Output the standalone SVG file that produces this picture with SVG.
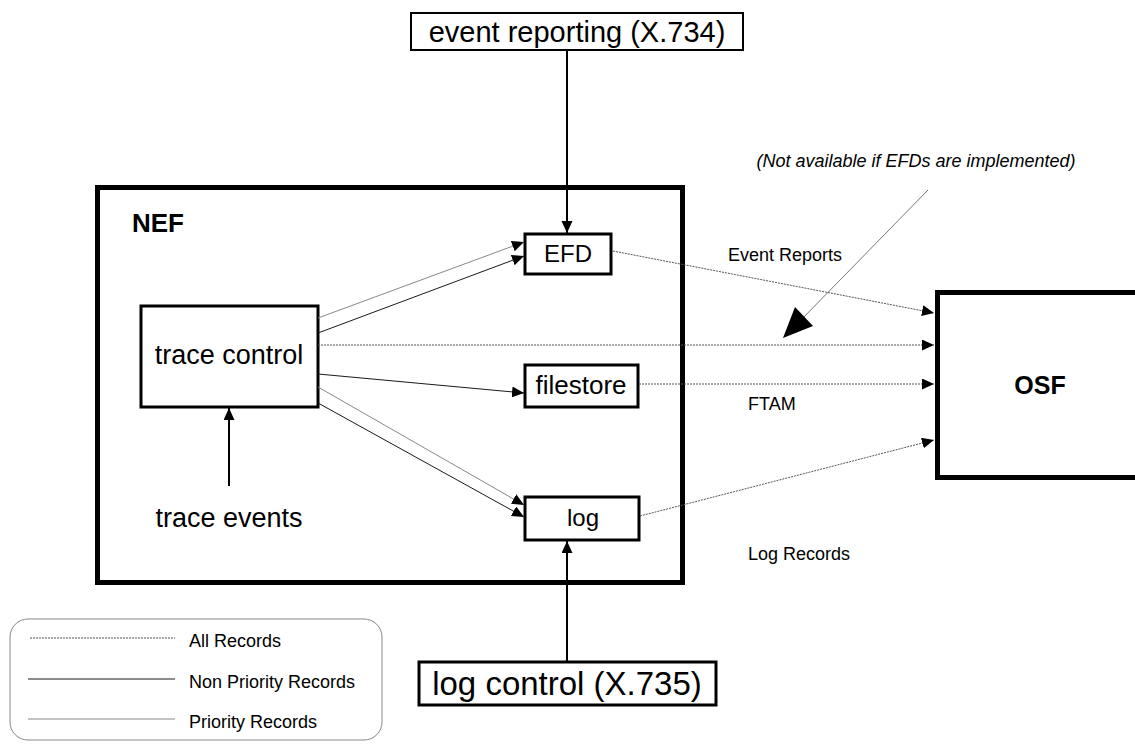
<svg xmlns="http://www.w3.org/2000/svg" width="1135" height="744" viewBox="0 0 1135 744">
<style>
  text { font-family: "Liberation Sans", Arial, sans-serif; fill: #000; }
  .box { fill: #fff; stroke: #000; stroke-width: 3; }
  .thin { fill: none; stroke-width: 1; }
  .all { stroke: #555; stroke-dasharray: 2 1; }
  .nonp { stroke: #1a1a1a; }
  .prio { stroke: #888; }
  .ctl { fill: none; stroke: #000; stroke-width: 2; }
  .lbl { font-size: 18px; }
</style>
<defs>
  <marker id="ah" markerUnits="userSpaceOnUse" markerWidth="13" markerHeight="12" refX="12" refY="5.5" orient="auto">
    <path d="M0,0 L12,5.5 L0,11 Z" fill="#000"/>
  </marker>
  <marker id="ahc" markerUnits="userSpaceOnUse" markerWidth="13" markerHeight="12" refX="12" refY="5.5" orient="auto">
    <path d="M0,0 L12,5.5 L0,11 Z" fill="#000"/>
  </marker>
</defs>

<g id="nef">
  <rect x="97.5" y="187.5" width="585" height="395" fill="#fff" stroke="#000" stroke-width="5"/>
  <text x="132" y="232" font-size="26" font-weight="bold">NEF</text>
</g>

<g id="osf">
  <rect x="937.5" y="292.5" width="210" height="185" fill="#fff" stroke="#000" stroke-width="5"/>
  <text x="1040" y="394" font-size="25" font-weight="bold" text-anchor="middle">OSF</text>
</g>

<g id="event-reporting">
  <rect x="411" y="13" width="332" height="37" fill="#fff" stroke="#000" stroke-width="2"/>
  <text x="577" y="42" font-size="29" text-anchor="middle">event reporting (X.734)</text>
</g>

<g id="efd">
  <rect class="box" x="525" y="234" width="86" height="40"/>
  <text x="568" y="262" font-size="24" text-anchor="middle">EFD</text>
</g>

<g id="trace-control">
  <rect class="box" x="141" y="306" width="177" height="101"/>
  <text x="229" y="364" font-size="27" text-anchor="middle">trace control</text>
</g>

<g id="filestore">
  <rect class="box" x="525" y="365" width="113" height="42"/>
  <text x="581" y="394" font-size="26" text-anchor="middle">filestore</text>
</g>

<g id="log">
  <rect class="box" x="525" y="497" width="114" height="43"/>
  <text x="583" y="526" font-size="24" text-anchor="middle">log</text>
</g>

<g id="log-control">
  <rect class="box" x="419" y="662" width="297" height="43"/>
  <text x="567" y="695" font-size="33" text-anchor="middle">log control (X.735)</text>
</g>

<g id="trace-events">
  <text x="229" y="527" font-size="27" text-anchor="middle">trace events</text>
</g>

<g id="annotation">
  <text x="916" y="167" font-size="18" font-style="italic" text-anchor="middle">(Not available if EFDs are implemented)</text>
</g>

<g id="connectors">
  <!-- control arrows -->
  <line class="ctl" x1="567" y1="50" x2="567" y2="233" marker-end="url(#ahc)"/>
  <line class="ctl" x1="567" y1="662" x2="567" y2="541" marker-end="url(#ahc)"/>
  <line class="ctl" x1="229" y1="486" x2="229" y2="408" marker-end="url(#ahc)"/>

  <!-- trace control to EFD -->
  <line class="thin prio" x1="318" y1="318" x2="524" y2="242" marker-end="url(#ah)"/>
  <line class="thin nonp" x1="318" y1="333" x2="524" y2="256" marker-end="url(#ah)"/>
  <!-- trace control to filestore -->
  <line class="thin nonp" x1="318" y1="374" x2="524" y2="393" marker-end="url(#ah)"/>
  <!-- trace control to log -->
  <line class="thin prio" x1="318" y1="387" x2="524" y2="505" marker-end="url(#ah)"/>
  <line class="thin nonp" x1="318" y1="403" x2="524" y2="517" marker-end="url(#ah)"/>

  <!-- to OSF -->
  <line class="thin all" x1="613" y1="251" x2="934" y2="313" marker-end="url(#ah)"/>
  <line class="thin all" x1="318" y1="345" x2="934" y2="345" marker-end="url(#ah)"/>
  <line class="thin all" x1="639" y1="384" x2="934" y2="384" marker-end="url(#ah)"/>
  <line class="thin all" x1="640" y1="516" x2="934" y2="440" marker-end="url(#ah)"/>

  <!-- annotation pointer -->
  <line x1="928" y1="190" x2="800" y2="321" stroke="#777" stroke-width="1"/>
  <polygon points="783,338 813,326 795,307" fill="#000"/>

  <text class="lbl" x="728" y="261">Event Reports</text>
  <text class="lbl" x="748" y="410">FTAM</text>
  <text class="lbl" x="748" y="560">Log Records</text>
</g>

<g id="legend">
  <rect x="10" y="619" width="372" height="121" rx="18" ry="18" fill="#fff" stroke="#888" stroke-width="1"/>
  <line class="thin all" x1="30" y1="638" x2="175" y2="638"/>
  <line class="thin nonp" x1="28" y1="679" x2="175" y2="679"/>
  <line class="thin prio" x1="28" y1="719" x2="175" y2="719"/>
  <text class="lbl" x="189" y="647">All Records</text>
  <text class="lbl" x="189" y="688">Non Priority Records</text>
  <text class="lbl" x="189" y="728">Priority Records</text>
</g>
</svg>
